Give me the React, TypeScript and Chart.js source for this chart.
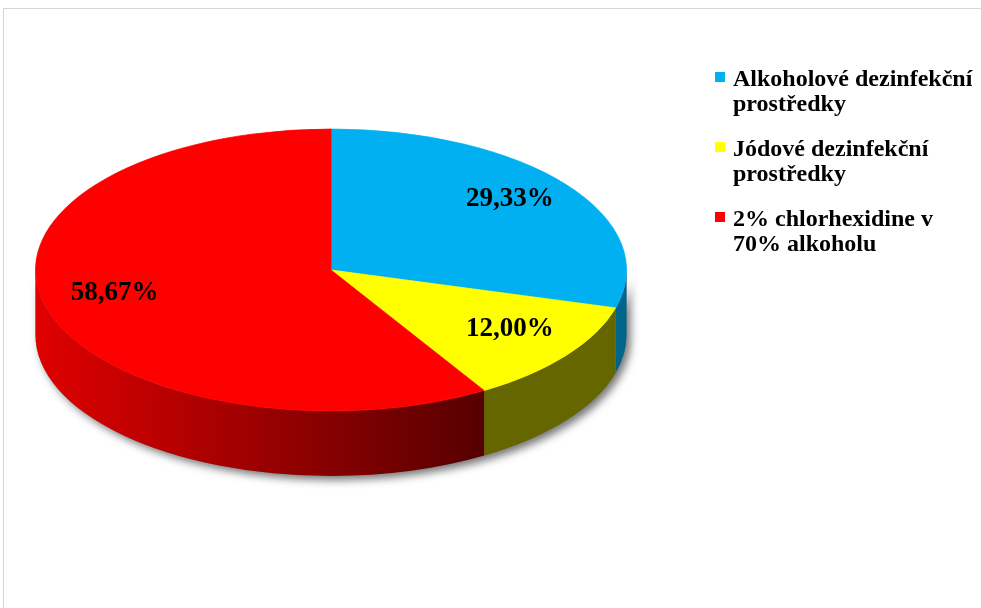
import React, { useEffect, useRef } from "react";
import { Chart, registerables } from "chart.js";

Chart.register(...registerables);

// ---- data ----
const categories = [
  "Alkoholové dezinfekční prostředky",
  "Jódové dezinfekční prostředky",
  "2% chlorhexidine v 70% alkoholu",
];
const values = [29.33, 12.0, 58.67];
const topColors = ["#00B0F0", "#FFFF00", "#FF0000"];
const sideLight = ["#00658a", "#666600", "#e00000"];
const sideDark = ["#00658a", "#666600", "#560000"];

// ---- layout ----
const W = 981;
const H = 608;
const PIE_CY = 270;
const PIE_RY = 141;
const DEPTH = 65;
const LABEL_R = 0.76;
const LABEL_DY = -6;
const LEGEND_X = 715;
const LEGEND_TEXT_X = 733;
const LEGEND_Y0 = 86;
const LEGEND_LINE = 24.7;
const LEGEND_GROUP = 70;
const LEGEND_MAXW = 245;

const fmt = (v: number) => v.toFixed(2).replace(".", ",") + "%";

function wallPath(ctx: CanvasRenderingContext2D, cx: number, cy: number, rx: number, ry: number, a0: number, a1: number) {
  ctx.beginPath();
  ctx.ellipse(cx, cy, rx, ry, 0, a0, a1, false);
  ctx.lineTo(cx + rx * Math.cos(a1), cy + DEPTH + ry * Math.sin(a1));
  ctx.ellipse(cx, cy + DEPTH, rx, ry, 0, a1, a0, true);
  ctx.closePath();
}

function wrap(ctx: CanvasRenderingContext2D, text: string, maxW: number): string[] {
  const words = text.split(" ");
  const lines: string[] = [];
  let cur = "";
  for (const w of words) {
    const t = cur ? cur + " " + w : w;
    if (cur && ctx.measureText(t).width > maxW) {
      lines.push(cur);
      cur = w;
    } else cur = t;
  }
  if (cur) lines.push(cur);
  return lines;
}

const pie3d = {
  id: "pie3d",
  beforeDraw(chart: any) {
    const ctx = chart.ctx as CanvasRenderingContext2D;
    ctx.save();
    ctx.fillStyle = "#ffffff";
    ctx.fillRect(0, 0, W, H);
    ctx.strokeStyle = "#d6d6d6";
    ctx.lineWidth = 1;
    ctx.strokeRect(3.5, 8.5, W + 20, H + 20);
    ctx.restore();
  },
  beforeDatasetsDraw(chart: any) {
    const ctx = chart.ctx as CanvasRenderingContext2D;
    const meta = chart.getDatasetMeta(0);
    const first = meta.data[0];
    const cx = first.x;
    const cy = first.y;
    const R = first.outerRadius;
    const ty = PIE_CY;
    const ry = PIE_RY;

    // shadow of the wall
    ctx.save();
    ctx.shadowColor = "rgba(0,0,0,0.55)";
    ctx.shadowBlur = 9;
    ctx.shadowOffsetX = 4;
    ctx.shadowOffsetY = 4;
    wallPath(ctx, cx, ty, R, ry, 0, Math.PI);
    ctx.fillStyle = "#777";
    ctx.fill();
    ctx.restore();

    // side walls
    meta.data.forEach((arc: any, i: number) => {
      const s = Math.max(arc.startAngle, 0);
      const e = Math.min(arc.endAngle, Math.PI);
      if (e <= s) return;
      const xL = cx + R * Math.cos(e);
      const xR = cx + R * Math.cos(s);
      const g = ctx.createLinearGradient(xL, 0, Math.max(xR, xL + 1), 0);
      g.addColorStop(0, sideLight[i]);
      g.addColorStop(1, sideDark[i]);
      ctx.save();
      wallPath(ctx, cx, ty, R, ry, s, e);
      ctx.fillStyle = g;
      ctx.fill();
      ctx.restore();
    });

    ctx.save();
    ctx.translate(cx, ty);
    ctx.scale(1, ry / R);
    ctx.translate(-cx, -cy);
  },
  afterDatasetsDraw(chart: any) {
    const ctx = chart.ctx as CanvasRenderingContext2D;
    ctx.restore();
    const meta = chart.getDatasetMeta(0);
    const ds = chart.data.datasets[0];
    const first = meta.data[0];
    const cx = first.x;
    const R = first.outerRadius;

    // data labels
    ctx.save();
    ctx.fillStyle = "#000";
    ctx.font = "bold 27px 'Liberation Serif', 'Times New Roman', serif";
    ctx.textAlign = "center";
    ctx.textBaseline = "middle";
    meta.data.forEach((arc: any, i: number) => {
      const mid = (arc.startAngle + arc.endAngle) / 2;
      const x = cx + R * LABEL_R * Math.cos(mid);
      const y = PIE_CY + PIE_RY * LABEL_R * Math.sin(mid) + LABEL_DY;
      ctx.fillText(fmt(ds.data[i]), x, y);
    });
    ctx.restore();

    // legend
    ctx.save();
    ctx.font = "bold 24px 'Liberation Serif', 'Times New Roman', serif";
    ctx.textAlign = "left";
    ctx.textBaseline = "alphabetic";
    chart.data.labels.forEach((lab: string, i: number) => {
      const base = LEGEND_Y0 + i * LEGEND_GROUP;
      ctx.fillStyle = ds.backgroundColor[i];
      ctx.fillRect(LEGEND_X, base - 14, 10, 10);
      ctx.fillStyle = "#000";
      wrap(ctx, lab, LEGEND_MAXW).forEach((ln, j) => {
        ctx.fillText(ln, LEGEND_TEXT_X, base + j * LEGEND_LINE);
      });
    });
    ctx.restore();
  },
};

export default function App() {
  const ref = useRef<HTMLCanvasElement>(null);
  useEffect(() => {
    document.body.style.margin = "0";
    const chart = new Chart(ref.current as HTMLCanvasElement, {
      type: "pie",
      data: {
        labels: categories,
        datasets: [
          {
            data: values,
            backgroundColor: topColors,
            borderColor: topColors,
            borderWidth: 1,
            clip: false as any,
          },
        ],
      },
      options: {
        responsive: false,
        animation: false,
        devicePixelRatio: 1,
        events: [],
        layout: { padding: { left: 35, right: 354, top: 0, bottom: 0 } },
        plugins: {
          legend: { display: false },
          tooltip: { enabled: false },
        },
      },
      plugins: [pie3d],
    });
    return () => chart.destroy();
  }, []);
  return <canvas ref={ref} width={W} height={H} style={{ display: "block" }} />;
}
